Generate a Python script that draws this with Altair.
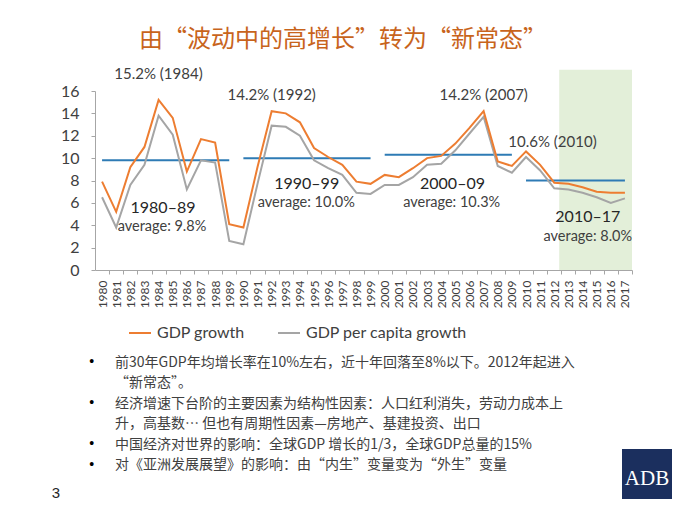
import altair as alt
import pandas as pd

# ---------------- data ----------------
years = list(range(1980, 2018))
gdp_growth = [7.9, 5.2, 9.2, 11.0, 15.2, 13.6, 8.8, 11.7, 11.4, 4.1, 3.8,
              9.2, 14.2, 14.0, 13.2, 10.9, 10.1, 9.4, 7.9, 7.7,
              8.5, 8.3, 9.1, 10.0, 10.2, 11.3, 12.7, 14.2, 9.7, 9.3,
              10.6, 9.4, 7.8, 7.7, 7.4, 7.0, 6.9, 6.9]
gdp_pc_growth = [6.5, 3.8, 7.6, 9.4, 13.8, 12.1, 7.2, 9.8, 9.6, 2.6, 2.3,
                 7.7, 12.9, 12.8, 12.0, 9.8, 9.1, 8.5, 6.9, 6.8,
                 7.6, 7.6, 8.3, 9.4, 9.5, 10.7, 12.2, 13.7, 9.3, 8.7,
                 10.1, 8.9, 7.3, 7.2, 6.9, 6.5, 6.0, 6.4]
series_names = ["GDP growth", "GDP per capita growth"]
series_colors = ["#ED7D31", "#A5A5A5"]

period_start = [1980, 1990, 2000, 2010]
period_end = [1989, 1999, 2009, 2017]
period_avg = [9.8, 10.0, 10.3, 8.0]

shade_start = [2012.35]
shade_end = [2017.5]
shade_low = [0]
shade_high = [17.9]

y_ticks = [0, 2, 4, 6, 8, 10, 12, 14, 16]
x_domain = [1979.5, 2017.5]

title_text = "由“波动中的高增长”转为“新常态”"
peak_labels = ["15.2% (1984)", "14.2% (1992)", "14.2% (2007)", "10.6% (2010)"]
period_labels = ["1980–89", "1990–99", "2000–09", "2010–17"]
avg_labels = ["average: 9.8%", "average: 10.0%", "average: 10.3%", "average: 8.0%"]
bullet_lines = [
    "前30年GDP年均增长率在10%左右，近十年回落至8%以下。2012年起进入",
    "“新常态”。",
    "经济增速下台阶的主要因素为结构性因素：人口红利消失，劳动力成本上",
    "升，高基数… 但也有周期性因素—房地产、基建投资、出口",
    "中国经济对世界的影响：全球GDP 增长的1/3，全球GDP总量的15%",
    "对《亚洲发展展望》的影响：由“内生”变量变为“外生”变量",
]

# ---------------- layout ----------------
W, H = 537, 179
step = W / (x_domain[1] - x_domain[0])

gdp_df = pd.DataFrame({"year": years, "value": gdp_growth, "series": series_names[0]})
pc_df = pd.DataFrame({"year": years, "value": gdp_pc_growth, "series": series_names[1]})
avg_df = pd.DataFrame({"start": period_start, "end": period_end, "avg": period_avg})
shade_df = pd.DataFrame({"x0": shade_start, "x1": shade_end, "y0": shade_low, "y1": shade_high})

x_scale = alt.Scale(domain=x_domain, nice=False, zero=False)
y_scale = alt.Scale(domain=[0, 16], nice=False)

x_axis = alt.Axis(values=years, format="d", labelAngle=-90, labelFontSize=12,
                  labelColor="#404040", labelFont="Lato", tickOffset=step / 2,
                  labelOffset=-step / 2, tickSize=4, tickColor="#A6A6A6",
                  domainColor="#A6A6A6", grid=False, title=None, labelPadding=6,
                  labelFlush=False, labelOverlap=False, labelBound=False)
y_axis = alt.Axis(values=y_ticks, labelFontSize=16, labelColor="#404040",
                  labelFont="Lato", tickSize=4, tickColor="#A6A6A6",
                  domainColor="#A6A6A6", grid=False, title=None, labelPadding=12,
                  labelFlush=False, labelOverlap=False)

color_scale = alt.Scale(domain=series_names, range=series_colors)
legend = alt.Legend(orient="none", legendX=33, legendY=230, direction="horizontal",
                    title=None, symbolType="stroke", symbolSize=484,
                    symbolStrokeWidth=2, labelFontSize=16, labelFont="Lato",
                    labelColor="#404040", columnPadding=29, labelOffset=5,
                    labelLimit=400)

X = lambda f: alt.X(f, scale=x_scale, axis=x_axis)
Y = lambda f: alt.Y(f, scale=y_scale, axis=y_axis)

shade = alt.Chart(shade_df).mark_rect(color="#E3EFD9", clip=False).encode(
    x=X("x0:Q"), x2="x1:Q", y=Y("y0:Q"), y2="y1:Q")

avg_rules = alt.Chart(avg_df).mark_rule(color="#2E7BB5", strokeWidth=2).encode(
    x=X("start:Q"), x2="end:Q", y=Y("avg:Q"))

pc_line = alt.Chart(pc_df).mark_line(strokeWidth=2).encode(
    x=X("year:Q"), y=Y("value:Q"),
    color=alt.Color("series:N", scale=color_scale, legend=legend))

gdp_line = alt.Chart(gdp_df).mark_line(strokeWidth=2).encode(
    x=X("year:Q"), y=Y("value:Q"),
    color=alt.Color("series:N", scale=color_scale, legend=legend))


def label(text, x, y, size=15, color="#404040", font="Lato", align="center", weight="normal"):
    return alt.Chart(pd.DataFrame({"t": [text]})).mark_text(
        fontSize=size, color=color, font=font, align=align, baseline="middle",
        fontWeight=weight).encode(text="t:N", x=alt.value(x), y=alt.value(y))


texts = [
    label(title_text, 248, -51, size=24, color="#C8641C", font="Noto Sans CJK SC"),
    label(peak_labels[0], 63.5, -17),
    label(peak_labels[1], 176.7, 4),
    label(peak_labels[2], 388.7, 4),
    label(peak_labels[3], 457.5, 51),
    label(period_labels[0], 68, 117, size=16, color="#262626"),
    label(avg_labels[0], 67, 136, size=14.5),
    label(period_labels[1], 211.7, 93, size=16, color="#262626"),
    label(avg_labels[1], 211.3, 112.3, size=14.5),
    label(period_labels[2], 357.5, 93, size=16, color="#262626"),
    label(avg_labels[2], 356.7, 112.3, size=14.5),
    label(period_labels[3], 492.8, 125.7, size=16, color="#262626"),
    label(avg_labels[3], 492.8, 145.7, size=14.5),
]

bullet_y = [271.5, 292, 312.5, 333, 353.5, 374]
for i, line in enumerate(bullet_lines):
    texts.append(label(line, 20, bullet_y[i], size=14, color="#404040",
                       font="Noto Sans CJK SC", align="left"))
for by in [271, 312, 353, 373.5]:
    texts.append(label("•", -3.3, by, size=14, color="#000000", font="Liberation Sans"))

logo = alt.Chart(pd.DataFrame({"t": ["ADB"]})).mark_rect(color="#1B2F5E").encode(
    x=alt.value(527), x2=alt.value(577), y=alt.value(358), y2=alt.value(408))
texts.append(label("ADB", 552, 388, size=21, color="#FFFFFF", font="Liberation Serif"))
texts.append(label("3", -39, 402, size=15, color="#262626", font="Liberation Sans"))

chart = alt.layer(shade, avg_rules, pc_line, gdp_line, logo, *texts).properties(
    width=W, height=H,
    autosize=alt.AutoSizeParams(type="none"),
    padding={"left": 87, "top": 83, "right": 50, "bottom": 235},
    background="#FFFFFF",
).configure_view(stroke=None)

chart.save("out.html", embed_options={"renderer": "svg", "actions": False})
